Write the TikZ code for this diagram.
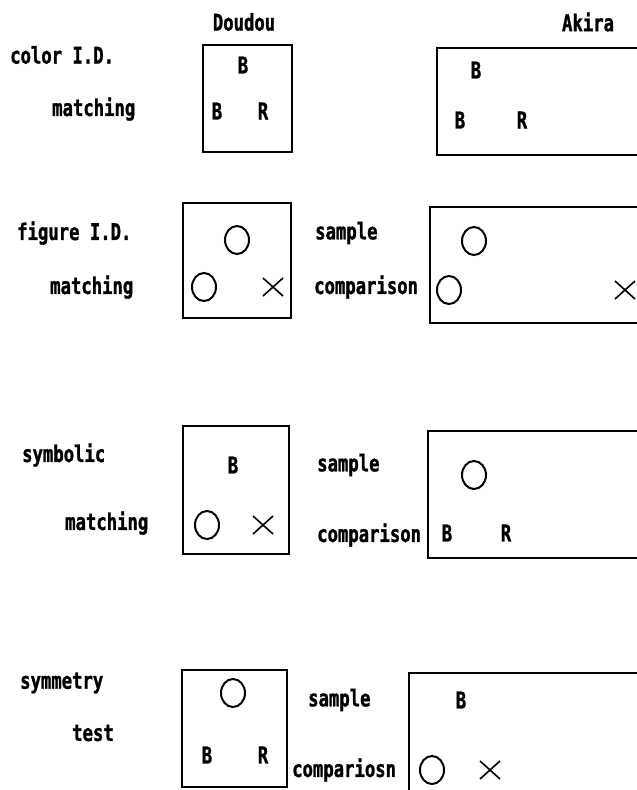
\documentclass[tikz,border=0pt]{standalone}
\usepackage{fontspec}
\setmonofont[FakeStretch=0.75,BoldFeatures={FakeStretch=0.75,FakeBold=1.2}]{DejaVu Sans Mono}
\usetikzlibrary{positioning}

\begin{document}
\begin{tikzpicture}[x=1pt,y=-1pt,
    lbl/.style={font=\ttfamily\bfseries\fontsize{23}{25}\selectfont,inner sep=0pt},
    side/.style={lbl,anchor=west},
    panel/.style={line width=1.9pt},
    ring/.style={line width=2pt},
    cross/.style={line width=1.6pt}]
  \clip (0,0) rectangle (637,790);
  \fill[white] (0,0) rectangle (637,790);

  % subjects
  \node[lbl] (doudou) at (244,22) {Doudou};
  \node[lbl] (akira) at (588,22) {Akira};

  % row labels
  \node[side] (colorid) at (10,55) {color I.D.};
  \node[side] (match1) at (52,109) {matching};
  \node[side] (figid) at (17,233) {figure I.D.};
  \node[side] (match2) at (50,287) {matching};
  \node[side] (symb) at (22,455) {symbolic};
  \node[side] (match3) at (65,523) {matching};
  \node[side] (symm) at (20,683) {symmetry};
  \node[side] (test) at (72,733) {test};

  % middle labels
  \foreach \n/\ys/\yc/\xs/\xc/\t in {
    2/233/287/315/314/comparison,
    3/465/535/317/317/comparison,
    4/700/770/308/292/compariosn
  }{
    \node[side] (samp\n) at (\xs,\ys) {sample};
    \node[side] (comp\n) at (\xc,\yc) {\t};
  }

  % panels
  \foreach \a/\b/\c/\d in {
    203/45/292/152, 437/48/650/155,
    183/203/291/318, 430/207/650/323,
    183/426/289/554, 428/431/650/558,
    182/670/287/787, 409/673/650/800
  }{
    \draw[panel] (\a,\b) rectangle (\c,\d);
  }

  % colour keys
  \foreach \x/\y/\k [count=\i] in {
    243/65/B, 217/111/B, 263/111/R,
    476/70/B, 460/120/B, 522/120/R,
    233/465/B, 447/533/B, 506/533/R,
    207/755/B, 263/755/R, 461/700/B
  }{
    \node[lbl] (key\i) at (\x,\y) {\k};
  }

  % circles
  \foreach \x/\y in {237/240, 204/287, 474/241, 449/290,
                      207/525, 474/475, 233/693, 432/770}{
    \draw[ring] (\x,\y) ellipse (12 and 14);
  }

  % crosses
  \foreach \x/\y in {273/287, 625/290, 263/525, 490/770}{
    \draw[cross] (\x,\y) +(-10,-9) -- +(10,9) +(-10,9) -- +(10,-9);
  }
\end{tikzpicture}
\end{document}
